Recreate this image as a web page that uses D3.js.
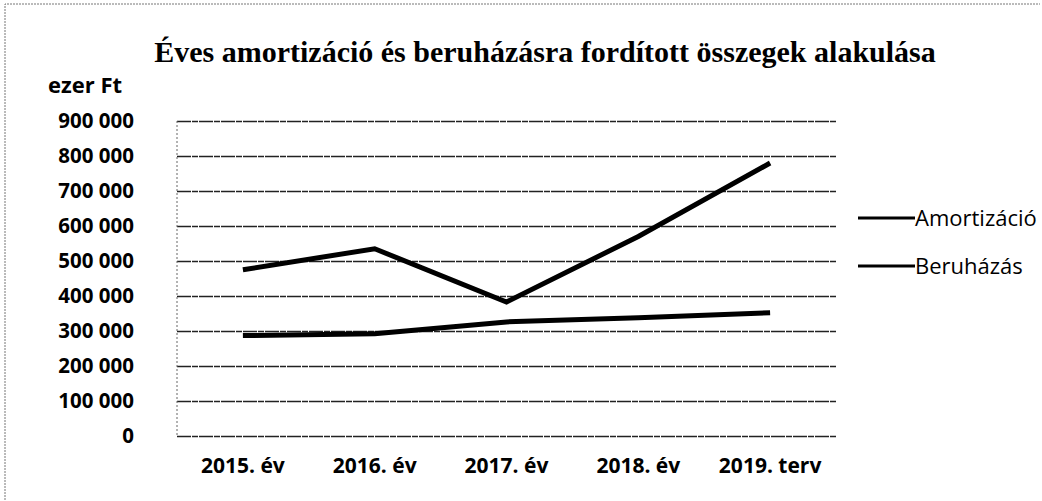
<!DOCTYPE html>
<HTML>
<HEAD>
<META charset="utf-8">
<TITLE>Éves amortizáció és beruházás</TITLE>

<STYLE>
body {
    margin: 0;
    background: white;
}
svg {
    display: block;
    width: 1042px;
    height: 501px;
}
.ylab, .xlab, .unit {
    font-family: "Open Sans", sans-serif;
    font-weight: bold;
    fill: black;
}
.leg {
    font-family: "Open Sans", sans-serif;
    fill: black;
}
</STYLE>

<SCRIPT type="text/javascript" src="https://d3js.org/d3.v7.min.js"></SCRIPT>
</HEAD>

<BODY>
<SVG id="chart"></SVG>

<SCRIPT type="text/javascript">

// data (ezer Ft)
const years = ["2015. év", "2016. év", "2017. év", "2018. év", "2019. terv"];
const amortizacio = [475000, 535000, 383000, 570000, 780000];
const beruhazas = [287000, 292000, 326000, 338000, 352000];
const yTicks = [0, 100000, 200000, 300000, 400000, 500000, 600000, 700000, 800000, 900000];
const seriesNames = ["Amortizáció", "Beruházás"];

const chart = d3.select("#chart");

const PLOT_L = 177;
const PLOT_R = 836;
const PLOT_T = 121;
const PLOT_B = 436;

const huFmt = d3.formatLocale({thousands: " ", grouping: [3], decimal: ",", currency: ["", ""]}).format(",d");

const x = d3.scaleBand().domain(years).range([PLOT_L, PLOT_R]).padding(0);
const y = d3.scaleLinear().domain([0, 900000]).range([PLOT_B, PLOT_T]);

// outer dotted frame
chart.append("path")
     .attr("d", "M5,500 L5,4 L1040,4")
     .style("fill", "none")
     .style("stroke", "#777")
     .style("stroke-width", 1)
     .style("stroke-dasharray", "2,1");

// title
chart.append("text")
     .attr("x", 545)
     .attr("y", 62)
     .attr("text-anchor", "middle")
     .style("font-family", "'Liberation Serif', 'Times New Roman', serif")
     .style("font-weight", "bold")
     .style("font-size", "30px")
     .text("Éves amortizáció és beruházásra fordított összegek alakulása");

chart.append("text")
     .classed("unit", true)
     .attr("x", 48)
     .attr("y", 93)
     .style("font-size", "22px")
     .text("ezer Ft");

// gridlines
const grid = chart.append("g")
     .attr("transform", `translate(${PLOT_L},0)`)
     .call(d3.axisLeft(y).tickValues(yTicks).tickSize(-(PLOT_R - PLOT_L)).tickFormat(""));
grid.select(".domain").remove();
grid.selectAll("line")
    .style("stroke", "#222")
    .style("stroke-width", 1.5)
    .style("stroke-dasharray", "14,1,6,1");

// left dotted edge of plot area
chart.append("line")
     .attr("x1", PLOT_L).attr("x2", PLOT_L)
     .attr("y1", PLOT_T).attr("y2", PLOT_B)
     .style("stroke", "#666")
     .style("stroke-dasharray", "2,2");

// y labels
const yAxis = chart.append("g")
     .attr("transform", `translate(${PLOT_L},0)`)
     .call(d3.axisLeft(y).tickValues(yTicks).tickSize(0).tickPadding(43).tickFormat(huFmt));
yAxis.select(".domain").remove();
yAxis.selectAll("text")
     .classed("ylab", true)
     .style("font-size", "20.5px")
     .attr("font-family", null)
     .attr("font-size", null);

// x labels
const xAxis = chart.append("g")
     .attr("transform", `translate(0,${PLOT_B})`)
     .call(d3.axisBottom(x).tickSize(0).tickPadding(22));
xAxis.select(".domain").remove();
xAxis.selectAll("text")
     .classed("xlab", true)
     .style("font-size", "21px")
     .attr("font-family", null)
     .attr("font-size", null);

// lines
const lineGen = d3.line()
    .x((d, i) => x(years[i]) + x.bandwidth() / 2)
    .y((d) => y(d));

[amortizacio, beruhazas].forEach((vals) => {
    chart.append("path")
         .datum(vals)
         .attr("d", lineGen)
         .style("fill", "none")
         .style("stroke", "black")
         .style("stroke-width", 5)
         .style("stroke-linejoin", "miter");
});

// legend
const legend = chart.selectAll(".legItem")
     .data(seriesNames)
     .enter()
     .append("g")
     .attr("transform", (d, i) => `translate(858, ${218 + i * 48})`);

legend.append("line")
      .attr("x1", 0).attr("x2", 57)
      .style("stroke", "black")
      .style("stroke-width", 3);

legend.append("text")
      .classed("leg", true)
      .attr("x", 57)
      .attr("dy", "0.35em")
      .style("font-size", "22px")
      .text((d) => d);

</SCRIPT>
</BODY>
</HTML>
